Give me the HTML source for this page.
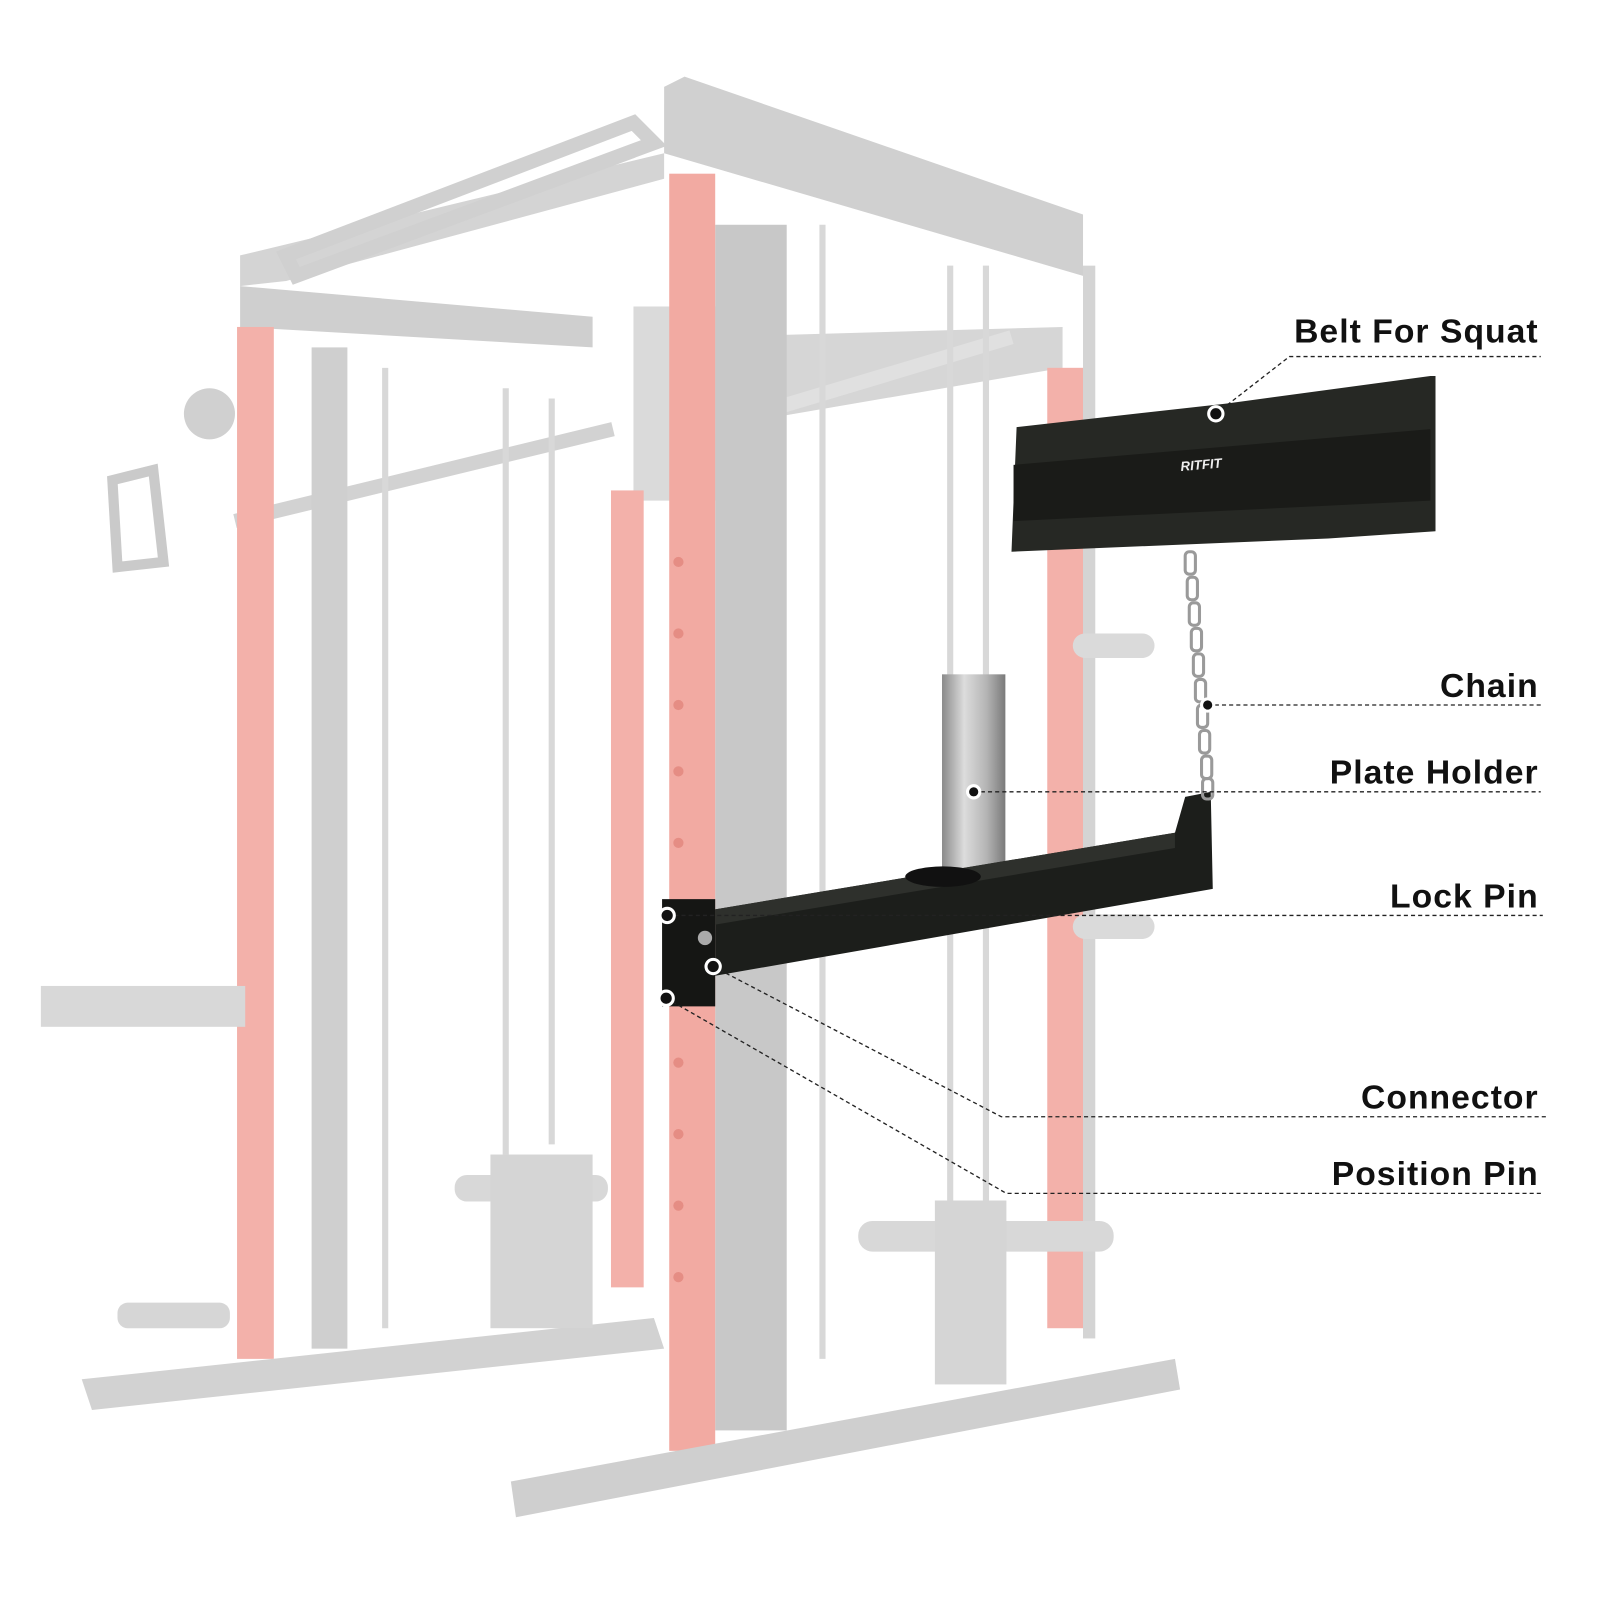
<!DOCTYPE html>
<html><head><meta charset="utf-8"><style>
html,body{margin:0;padding:0;background:#fff;}
svg{display:block}
text{font-family:"Liberation Sans",Arial,sans-serif;font-weight:bold;font-size:33px;letter-spacing:1px;fill:#111;}
</style></head><body>
<svg width="1600" height="1600" viewBox="0 0 1566 1566" xmlns="http://www.w3.org/2000/svg">
<rect width="1566" height="1566" fill="#fff"/>
<g>
 <polygon points="650,85 670,75 1060,210 1060,270 650,150" fill="#d0d0d0"/>
 <polygon points="235,250 650,150 650,175 280,275 235,280" fill="#d4d4d4"/>
 <polygon points="235,280 580,310 580,340 235,320" fill="#cfcfcf"/>
 <polygon points="280,250 620,120 640,140 290,270" fill="none" stroke="#d0d0d0" stroke-width="14"/>
 <polygon points="690,330 1040,320 1040,360 690,420" fill="#d6d6d6"/>
 <rect x="620" y="300" width="90" height="190" fill="#dadada"/>
 <line x1="230" y1="510" x2="600" y2="420" stroke="#d2d2d2" stroke-width="14"/>
 <line x1="690" y1="420" x2="990" y2="330" stroke="#e0e0e0" stroke-width="14"/>
 <rect x="232" y="320" width="36" height="1010" fill="#f3b1aa"/>
 <rect x="305" y="340" width="35" height="980" fill="#cfcfcf"/>
 <rect x="598" y="480" width="32" height="780" fill="#f3b1aa"/>
 <rect x="700" y="220" width="70" height="1180" fill="#c8c8c8"/>
 <rect x="655" y="170" width="45" height="1250" fill="#f2aaa2"/>
 <rect x="1025" y="360" width="35" height="940" fill="#f3b1aa"/>
 <rect x="1060" y="260" width="12" height="1050" fill="#d4d4d4"/>
 <g stroke="#d8d8d8" stroke-width="6">
  <line x1="377" y1="360" x2="377" y2="1300"/>
  <line x1="495" y1="380" x2="495" y2="1130"/>
  <line x1="540" y1="390" x2="540" y2="1120"/>
  <line x1="805" y1="220" x2="805" y2="1330"/>
  <line x1="930" y1="260" x2="930" y2="1180"/>
  <line x1="965" y1="260" x2="965" y2="1180"/>
 </g>
 <g fill="#e58d84">
  <circle cx="664" cy="550" r="5"/><circle cx="664" cy="620" r="5"/><circle cx="664" cy="690" r="5"/><circle cx="664" cy="755" r="5"/><circle cx="664" cy="825" r="5"/><circle cx="664" cy="1040" r="5"/><circle cx="664" cy="1110" r="5"/><circle cx="664" cy="1180" r="5"/><circle cx="664" cy="1250" r="5"/>
 </g>
 <polygon points="80,1350 640,1290 650,1320 90,1380" fill="#d2d2d2"/>
 <polygon points="500,1450 1150,1330 1155,1360 505,1485" fill="#cfcfcf"/>
 <rect x="115" y="1275" width="110" height="25" rx="10" fill="#d6d6d6"/>
 <rect x="40" y="965" width="200" height="40" fill="#d8d8d8"/>
 <rect x="445" y="1150" width="150" height="26" rx="12" fill="#d8d8d8"/>
 <rect x="840" y="1195" width="250" height="30" rx="14" fill="#d8d8d8"/>
 <rect x="1050" y="620" width="80" height="24" rx="12" fill="#dadada"/>
 <rect x="1050" y="895" width="80" height="24" rx="12" fill="#dadada"/>
 <rect x="480" y="1130" width="100" height="170" fill="#d5d5d5"/>
 <rect x="915" y="1175" width="70" height="180" fill="#d5d5d5"/>
 <circle cx="205" cy="405" r="25" fill="#d0d0d0"/>
 <path d="M110,470 L150,460 L160,550 L115,555 Z" fill="none" stroke="#cacaca" stroke-width="10"/>
</g>
<defs><linearGradient id="cyl" x1="0" x2="1"><stop offset="0" stop-color="#8a8a8a"/><stop offset="0.35" stop-color="#dcdcdc"/><stop offset="0.7" stop-color="#b5b5b5"/><stop offset="1" stop-color="#7a7a7a"/></linearGradient></defs>
<rect x="922" y="660" width="62" height="200" fill="url(#cyl)"/>
<polygon points="700,890 1150,815 1160,780 1185,775 1187,870 700,955" fill="#1c1e1b"/>
<polygon points="700,890 1150,815 1150,830 700,905" fill="#2e302c"/>
<ellipse cx="923" cy="858" rx="37" ry="10" fill="#111"/>
<polygon points="648,880 700,880 700,985 648,985" fill="#151614"/>
<circle cx="690" cy="918" r="7" fill="#aaa"/>
<polygon points="995,418 1200,395 1400,368 1405,368 1405,520 1300,527 990,540" fill="#262824"/>
<polygon points="992,455 1400,420 1400,490 992,510" fill="#1a1b18"/>
<text x="1155" y="458" style="font-size:13px;letter-spacing:0;fill:#eee;font-style:italic" transform="rotate(-5 1190 450)">RITFIT</text>
<g fill="none" stroke="#9a9a9a" stroke-width="3">
 <rect x="1160" y="540" width="10" height="22" rx="4"/><rect x="1162" y="565" width="10" height="22" rx="4"/><rect x="1164" y="590" width="10" height="22" rx="4"/><rect x="1166" y="615" width="10" height="22" rx="4"/><rect x="1168" y="640" width="10" height="22" rx="4"/><rect x="1170" y="665" width="10" height="22" rx="4"/><rect x="1172" y="690" width="10" height="22" rx="4"/><rect x="1174" y="715" width="10" height="22" rx="4"/><rect x="1176" y="740" width="10" height="22" rx="4"/><rect x="1177" y="762" width="10" height="20" rx="4"/>
</g>
<g stroke="#222" stroke-width="1.3" stroke-dasharray="4,3" fill="none">
 <polyline points="1190,405 1262,349 1508,349"/>
 <line x1="1182" y1="690" x2="1508" y2="690"/>
 <line x1="953" y1="775" x2="1508" y2="775"/>
 <line x1="653" y1="896" x2="1510" y2="896"/>
 <polyline points="698,946 980,1093 1515,1093"/>
 <polyline points="652,977 985,1168 1510,1168"/>
</g>
<g stroke="#fff" stroke-width="3" fill="#111">
 <circle cx="1190" cy="405" r="7"/>
 <circle cx="1182" cy="690" r="6"/>
 <circle cx="953" cy="775" r="6"/>
 <circle cx="653" cy="896" r="7"/>
 <circle cx="698" cy="946" r="7"/>
 <circle cx="652" cy="977" r="7"/>
</g>
<g text-anchor="end">
 <text x="1506" y="335">Belt For Squat</text>
 <text x="1506" y="682">Chain</text>
 <text x="1506" y="767">Plate Holder</text>
 <text x="1506" y="888">Lock Pin</text>
 <text x="1506" y="1085">Connector</text>
 <text x="1506" y="1160">Position Pin</text>
</g>
</svg>
</body></html>
